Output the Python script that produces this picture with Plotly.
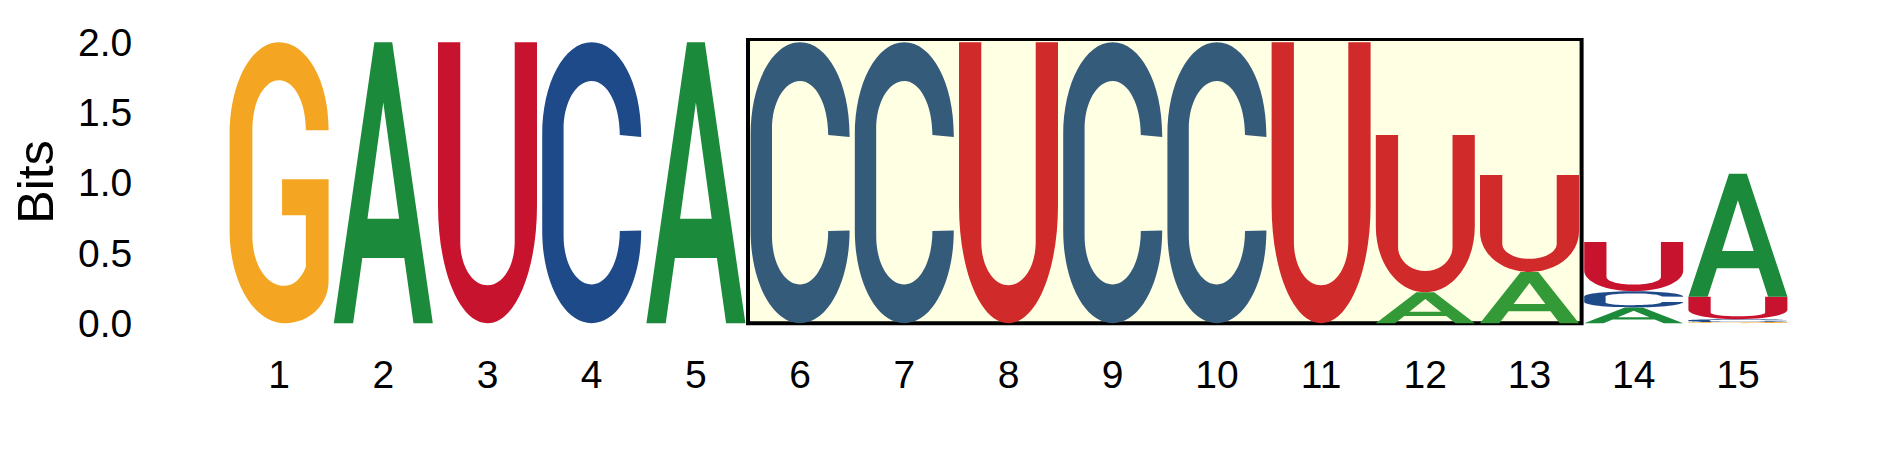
import plotly.graph_objects as go

# positions and information content (bits) per nucleotide
positions = list(range(1, 16))
bits_A = [0, 2.0, 0, 0, 2.0, 0, 0, 0, 0, 0, 0, 0.22, 0.365, 0.112, 0.875]
bits_C = [0, 0, 0, 2.0, 0, 2.0, 2.0, 0, 2.0, 2.0, 0, 0, 0, 0.116, 0.02]
bits_G = [2.0, 0, 0, 0, 0, 0, 0, 0, 0, 0, 0, 0, 0, 0, 0.008]
bits_U = [0, 0, 2.0, 0, 0, 0, 0, 2.0, 0, 0, 2.0, 1.12, 0.69, 0.35, 0.16]

# highlighted motif (positions 6..13)
highlight_start = 6
highlight_end = 13

y_ticks = [0, 0.5, 1.0, 1.5, 2.0]
y_ticktext = ["0.0", "0.5", "1.0", "1.5", "2.0"]

colors_out = {"A": "#1B8A3A", "C": "#1F4A8A", "G": "#F4A623", "U": "#C8132F"}
colors_in = {"A": "#349A37", "C": "#355B7B", "G": "#F4A623", "U": "#D02A2A"}

LETTER_W = 0.95
k = 0.56  # bezier "roundness" for the condensed glyphs


def arc(x0, y0, x1, y1, vertical_first):
    '''quarter arc from (x0,y0) to (x1,y1) as a cubic bezier'''
    if vertical_first:
        return ("C", x0, y0 + k * (y1 - y0), x1 + k * (x0 - x1), y1, x1, y1)
    return ("C", x0 + k * (x1 - x0), y0, x1, y1 + k * (y0 - y1), x1, y1)


# glyph outlines in a unit box (x 0..1, y 0..1)
GLYPHS = {
    "A": [("M", 0, 0), ("L", 0.195, 0), ("L", 0.288, 0.232), ("L", 0.712, 0.232),
          ("L", 0.805, 0), ("L", 1, 0), ("L", 0.59, 1), ("L", 0.41, 1), ("Z",),
          ("M", 0.34, 0.372), ("L", 0.66, 0.372), ("L", 0.5, 0.785), ("Z",)],
    "C": [("M", 1, 0.663), ("L", 1, 0.67),
          arc(1, 0.67, 0.5, 1, True), arc(0.5, 1, 0, 0.67, False),
          ("L", 0, 0.33),
          arc(0, 0.33, 0.5, 0, True), arc(0.5, 0, 1, 0.33, False),
          ("L", 0.784, 0.328),
          arc(0.784, 0.328, 0.5, 0.138, True), arc(0.5, 0.138, 0.216, 0.31, False),
          ("L", 0.216, 0.69),
          arc(0.216, 0.69, 0.5, 0.862, True), arc(0.5, 0.862, 0.784, 0.67, False),
          ("Z",)],
    "G": [("M", 1, 0.687), ("L", 1, 0.69),
          arc(1, 0.69, 0.5, 1, True), arc(0.5, 1, 0, 0.67, False),
          ("L", 0, 0.33),
          arc(0, 0.33, 0.56, 0, True), arc(0.56, 0, 1, 0.15, False),
          ("L", 1, 0.512), ("L", 0.53, 0.512), ("L", 0.53, 0.384),
          ("L", 0.77, 0.384), ("L", 0.77, 0.20),
          ("C", 0.72, 0.155, 0.64, 0.133, 0.55, 0.133),
          arc(0.55, 0.133, 0.23, 0.31, False),
          ("L", 0.23, 0.69),
          arc(0.23, 0.69, 0.5, 0.865, True), arc(0.5, 0.865, 0.77, 0.69, False),
          ("L", 0.77, 0.687), ("Z",)],
    "U": [("M", 0, 1), ("L", 0, 0.42),
          arc(0, 0.42, 0.5, 0, True), arc(0.5, 0, 1, 0.42, False),
          ("L", 1, 1), ("L", 0.775, 1), ("L", 0.775, 0.29),
          arc(0.775, 0.29, 0.5, 0.135, True), arc(0.5, 0.135, 0.225, 0.29, False),
          ("L", 0.225, 1), ("Z",)],
}


def glyphPath(letter, xc, y0, h):
    '''converts a unit glyph into an svg path in data coordinates'''
    x0 = xc - LETTER_W / 2
    parts = []
    for cmd in GLYPHS[letter]:
        if cmd[0] == "Z":
            parts.append("Z")
            continue
        pts = cmd[1:]
        coords = []
        for i in range(0, len(pts), 2):
            coords.append("%.5f,%.5f" % (x0 + pts[i] * LETTER_W, y0 + pts[i + 1] * h))
        parts.append(cmd[0] + " ".join(coords))
    return " ".join(parts)


fig = go.Figure()

totals = [a + c + g + u for a, c, g, u in zip(bits_A, bits_C, bits_G, bits_U)]
fig.add_trace(go.Scatter(x=positions, y=totals, mode="markers",
                         marker=dict(opacity=0), hoverinfo="skip", showlegend=False))

# highlight box behind the motif
fig.add_shape(type="rect", xref="x", yref="y", layer="below",
              x0=highlight_start - 0.5, x1=highlight_end + 0.5, y0=0, y1=2.022,
              fillcolor="#FFFFE4", line=dict(color="black", width=4))

for i, pos in enumerate(positions):
    stack = [("A", bits_A[i]), ("C", bits_C[i]), ("G", bits_G[i]), ("U", bits_U[i])]
    stack = sorted([s for s in stack if s[1] > 0], key=lambda s: s[1])
    palette = colors_in if highlight_start <= pos <= highlight_end else colors_out
    base = 0
    for letter, h in stack:
        fig.add_shape(type="path", xref="x", yref="y", layer="above",
                      path=glyphPath(letter, pos, base, h), fillrule="evenodd",
                      fillcolor=palette[letter], line=dict(width=0))
        base += h

# page body has an 8px margin, so the figure is 8px smaller than the window
font = "Arial, Liberation Sans, sans-serif"
fig.update_layout(
    width=1881, height=464,
    margin=dict(l=219, r=99, t=30, b=146),
    paper_bgcolor="white", plot_bgcolor="white",
    font=dict(family=font, color="black", size=39),
    showlegend=False,
)
fig.update_xaxes(range=[0.5, 15.5], tickvals=positions, ticktext=[str(p) for p in positions],
                 showgrid=False, zeroline=False, showline=False,
                 ticks="outside", ticklen=14, tickcolor="rgba(0,0,0,0)",
                 tickfont=dict(size=39))
fig.update_yaxes(range=[-0.02, 2.03], tickvals=y_ticks, ticktext=y_ticktext,
                 showgrid=False, zeroline=False, showline=False,
                 ticks="outside", ticklen=86, tickcolor="rgba(0,0,0,0)",
                 tickfont=dict(size=39),
                 title=dict(text="Bits", font=dict(size=50), standoff=14))

fig.write_html("out.html")
